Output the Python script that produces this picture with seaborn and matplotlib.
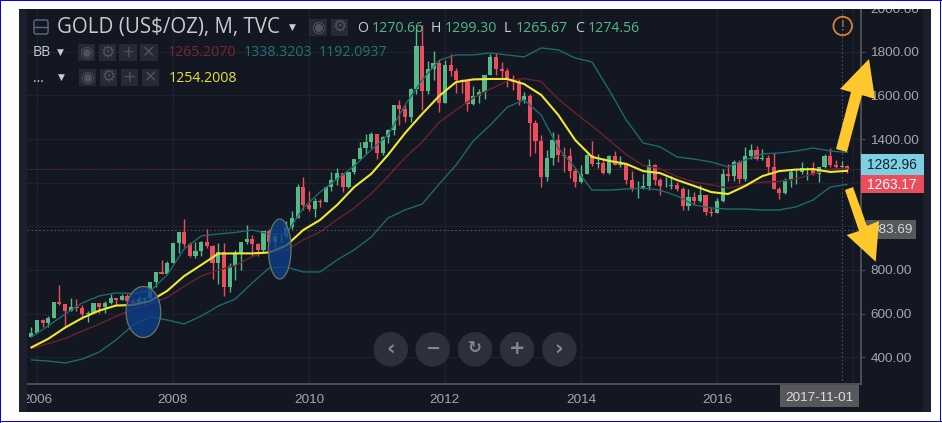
import matplotlib
matplotlib.use("Agg")
import matplotlib.pyplot as plt
import matplotlib.dates as mdates
from matplotlib.patches import Rectangle, Ellipse, Polygon, Circle, FancyBboxPatch
import numpy as np
import pandas as pd
import seaborn as sns

# ---------- candle data, monthly from 2005-12 to 2017-12 ----------
opens = [495,
 513,569,557,582,654,643,614,632,624,598,604,648,
 632,650,672,663,679,659,650,666,673,743,789,783,
 834,924,972,917,864,887,926,912,832,884,724,816,
 880,928,942,917,891,979,926,955,955,996,1040,1179,
 1096,1081,1118,1113,1180,1213,1244,1181,1248,1307,1359,1386,
 1421,1334,1410,1439,1556,1536,1502,1628,1826,1622,1722,1746,
 1564,1737,1711,1669,1664,1560,1597,1615,1692,1776,1719,1712,
 1675,1663,1578,1595,1472,1393,1224,1313,1396,1327,1323,1253,
 1202,1240,1326,1284,1291,1246,1322,1282,1287,1210,1171,1175,
 1184,1283,1213,1183,1184,1190,1172,1095,1134,1115,1142,1065,
 1061,1118,1238,1232,1293,1215,1322,1350,1309,1315,1272,1173,
 1151,1210,1249,1249,1268,1268,1241,1270,1320,1279,1270.66,1274.56]
highs = [541,
 570,574,590,654,730,643,672,665,640,610,650,650,
 660,690,672,692,690,672,683,677,745,790,846,840,
 925,975,1033,930,930,935,987,915,925,925,830,890,
 930,1005,960,925,980,990,960,965,1025,1070,1195,1227,
 1162,1128,1127,1180,1249,1266,1245,1250,1310,1388,1425,1432,
 1425,1412,1448,1557,1577,1556,1632,1912,1921,1756,1804,1764,
 1764,1791,1727,1676,1669,1641,1630,1692,1788,1796,1755,1723,
 1695,1675,1617,1605,1488,1420,1348,1433,1424,1362,1361,1267,
 1280,1332,1392,1331,1315,1325,1345,1324,1287,1255,1208,1239,
 1307,1285,1220,1225,1232,1205,1178,1170,1157,1191,1142,1088,
 1128,1263,1287,1303,1303,1362,1375,1367,1352,1326,1338,1180,
 1220,1264,1262,1295,1270,1296,1270,1331,1357,1306,1299.30,1283]
lows = [491,
 513,538,538,582,640,543,612,612,574,560,604,605,
 605,645,640,662,650,640,648,642,673,722,780,780,
 834,880,905,860,855,862,900,760,736,680,700,755,
 800,920,865,865,880,915,905,930,945,990,1040,1075,
 1070,1044,1088,1113,1160,1190,1155,1175,1240,1306,1330,1360,
 1308,1327,1382,1418,1462,1478,1478,1604,1535,1604,1670,1523,
 1563,1689,1612,1612,1527,1555,1565,1585,1692,1695,1676,1636,
 1626,1555,1564,1321,1338,1180,1208,1281,1295,1251,1221,1182,
 1200,1238,1277,1268,1240,1240,1281,1272,1194,1160,1132,1170,
 1167,1190,1142,1178,1170,1162,1077,1077,1098,1112,1053,1046,
 1061,1111,1208,1208,1199,1207,1310,1302,1304,1241,1171,1124,
 1146,1180,1195,1240,1214,1236,1204,1268,1271,1261,1265.67,1245]
closes = [513,
 569,557,582,654,643,614,632,624,598,604,648,632,
 650,672,663,679,659,650,666,673,743,789,783,834,
 924,972,917,864,887,926,912,832,884,724,816,880,
 928,942,917,891,979,926,955,955,996,1040,1179,1096,
 1081,1118,1113,1180,1213,1244,1181,1248,1307,1359,1386,1421,
 1334,1410,1439,1556,1536,1502,1628,1826,1622,1722,1746,1564,
 1737,1711,1669,1664,1560,1597,1615,1692,1776,1719,1712,1675,
 1663,1578,1595,1472,1393,1224,1313,1396,1327,1323,1253,1202,
 1240,1326,1284,1291,1246,1322,1282,1287,1210,1171,1175,1184,
 1283,1213,1183,1184,1190,1172,1095,1134,1115,1142,1065,1061,
 1118,1238,1232,1293,1215,1322,1350,1309,1315,1272,1173,1151,
 1210,1249,1249,1268,1268,1241,1270,1320,1279,1270.66,1274.56,1263.17]

# ---------- indicator lines, sampled quarterly from 2005-12 ----------
ma_yellow = [445,484,536,580,614,637,640,658,704,772,823,875,876,876,880,912,983,1029,1098,1180,
             1240,1327,1427,1515,1597,1661,1673,1675,1675,1652,1602,1510,1395,1318,1300,1286,
             1253,1244,1212,1185,1157,1148,1185,1230,1253,1260,1262,1249,1254.2]
bb_upper = [493,543,598,649,681,695,692,704,777,896,956,965,972,983,965,965,1084,1157,1217,1276,
            1350,1418,1556,1670,1761,1785,1785,1794,1785,1776,1817,1808,1771,1753,1625,1487,
            1382,1364,1318,1308,1295,1272,1304,1332,1336,1345,1359,1345,1338.3]
bb_lower = [388,383,374,392,424,479,548,585,571,553,589,635,667,740,809,814,791,791,846,892,
            951,1038,1075,1102,1194,1281,1391,1464,1546,1579,1510,1359,1267,1166,1166,1171,
            1175,1166,1139,1098,1084,1079,1079,1075,1075,1089,1121,1180,1192.1]
bb_basis = [440,463,486,520,552,587,620,645,674,725,772,800,820,861,887,890,938,974,1031,1084,
            1150,1228,1315,1386,1477,1533,1588,1629,1665,1677,1663,1583,1519,1460,1395,1329,
            1278,1265,1228,1203,1190,1175,1191,1203,1205,1217,1240,1262,1265.2]

y_ticks = [400, 600, 800, 1000, 1200, 1400, 1600, 1800, 2000]
x_years = [2006, 2008, 2010, 2012, 2014, 2016, 2018]
x_labels = ["2006", "2008", "2010", "2012", "2014", "2016", ""]
title = "GOLD (US$/OZ), M, TVC"
last_price = 1263.17
cross_price = 983.69
cross_date = "2017-11-01"

# ---------- palette ----------
BG = "#131722"
STRIP = "#1c202c"
GRID = "#1e222e"
AX = "#4d4f57"
TXT = "#a3a6ad"
GREEN = "#53b987"
RED = "#eb4d5c"
TEAL = "#1c6a6c"
DKRED = "#6a2329"
YEL = "#f0e833"
ARROW = "#ffc92d"
WID = "#262a36"
GL = "#4e525e"
SANS = "Liberation Sans"
UI = "Open Sans"

sns.set_theme(style="dark")
W, H = 942, 423
fig = plt.figure(figsize=(W / 100, H / 100), dpi=100, facecolor="white")


def ax_px(l, t, r, b):
    return [l / W, 1 - b / H, (r - l) / W, (b - t) / H]


# backdrop panel
under = fig.add_axes([0, 0, 1, 1], zorder=0)
under.set_xlim(0, W); under.set_ylim(H, 0); under.axis("off")
under.add_patch(Rectangle((19, 9), 912, 403, fc=BG, ec="none"))

# main chart
ax = fig.add_axes(ax_px(27, 8, 860.7, 384.3), zorder=5)
ax.set_facecolor("none")
dates = pd.date_range("2005-12-01", periods=len(closes), freq="MS")
qdates = pd.date_range("2005-12-01", periods=len(ma_yellow), freq="3MS")
xn = mdates.date2num(dates)
x0 = mdates.date2num(pd.Timestamp("2006-01-01"))
per_px = 365.25 / 68

ax.set_xlim(x0 - 10 * per_px, x0 + 823.7 * per_px)
v_of = lambda y: 400 + (357.3 - y) / 0.2183
ax.set_ylim(v_of(384.3), v_of(8))

# crosshair and last-price rule
ax.axhline(last_price, color="#7a2a33", lw=0.7, ls=(0, (1.5, 1.5)), zorder=1)
ax.axhline(cross_price, color="#5a5c66", lw=0.7, ls=(0, (1.5, 2.5)), zorder=1)
ax.axvline(mdates.date2num(pd.Timestamp(cross_date)), color="#5a5c66", lw=0.7, ls=(0, (1.5, 2.5)), zorder=1)

o, h, l, c = map(np.array, (opens, highs, lows, closes))
cols = np.where(c >= o, GREEN, RED)
ax.vlines(xn, l, h, colors=cols, lw=1.0, zorder=2)
ax.bar(xn, np.abs(c - o), bottom=np.minimum(o, c), width=23, color=cols, linewidth=0, zorder=2.1)

frame = pd.DataFrame({"date": qdates, "upper": bb_upper, "lower": bb_lower, "basis": bb_basis, "ma": ma_yellow})
for col, colr, lw in (("upper", TEAL, 1.0), ("lower", TEAL, 1.0), ("basis", DKRED, 1.0), ("ma", YEL, 1.5)):
    sns.lineplot(data=frame, x="date", y=col, color=colr, lw=lw, estimator=None, legend=False, ax=ax, zorder=3)

ax.set_xticks([mdates.date2num(pd.Timestamp(f"{yr}-01-01")) for yr in x_years])
ax.set_xticklabels(x_labels)
ax.set_yticks(y_ticks)
ax.set_yticklabels([f"{v:.2f}" if v not in (1000, 1200) else "" for v in y_ticks])
ax.yaxis.tick_right()
ax.set_xlabel(""); ax.set_ylabel("")
ax.grid(True, color=GRID, lw=0.9)
ax.set_axisbelow(True)
for s in ("left", "top"):
    ax.spines[s].set_visible(False)
for s in ("right", "bottom"):
    ax.spines[s].set_color(AX); ax.spines[s].set_linewidth(1.4)
ax.tick_params(axis="both", colors=AX, length=3, width=0.8, labelcolor=TXT, labelsize=9.7, pad=4)
for t in ax.get_xticklabels() + ax.get_yticklabels():
    t.set_family(SANS)

# overlay, in pixel units, for chrome and annotations
ov = fig.add_axes([0, 0, 1, 1], zorder=10)
ov.set_xlim(0, W); ov.set_ylim(H, 0); ov.axis("off"); ov.patch.set_alpha(0)

ov.add_patch(Rectangle((0, 0), W, 9, fc="white", ec="none", zorder=20))
ov.add_patch(Rectangle((19, 9), 8, 403, fc=STRIP, ec="none"))
ov.add_patch(Rectangle((923, 9), 8, 403, fc=STRIP, ec="none"))
ov.add_patch(Rectangle((0, 0), W, 1.2, fc="#0000ff", ec="none", zorder=21))
ov.add_patch(Rectangle((0, 0), 1.2, H, fc="#0000ff", ec="none", zorder=21))
ov.add_patch(Rectangle((0, 421), W, 1.2, fc="#0000ff", ec="none", zorder=21))
ov.add_patch(Rectangle((940.2, 0), 1.2, 422, fc="#0000ff", ec="none", zorder=21))

# highlighted ellipses
for cx, cy, w, hh in ((143.4, 312, 34.7, 51), (279.7, 249, 22.7, 60)):
    ov.add_patch(Ellipse((cx, cy), w, hh, fc="#0e3f8c", ec="none", alpha=0.78, zorder=2))
    ov.add_patch(Ellipse((cx, cy), w, hh, fc="none", ec="#6c7560", lw=0.9, zorder=2.1))

# price and date tags
ov.add_patch(Rectangle((860.5, 154), 63, 21.5, fc="#7dd0e2", ec="none", zorder=3))
ov.text(892, 165, "1282.96", color="#12222c", fontsize=9.9, family=SANS, ha="center", va="center", zorder=4)
ov.add_patch(Rectangle((860.5, 175.5), 63, 18, fc=RED, ec="none", zorder=3))
ov.text(892, 185, "1263.17", color="white", fontsize=9.9, family=SANS, ha="center", va="center", zorder=4)
ov.add_patch(Rectangle((866, 220), 50, 19.5, fc="#56585c", ec="none", zorder=3))
ov.text(892, 230, f"{cross_price:.2f}", color="#d8d9dc", fontsize=9.7, family=SANS, ha="center", va="center", zorder=4)
ov.add_patch(Rectangle((780, 385.5), 79, 22, fc="#56585c", ec="none", zorder=3))
ov.text(819.5, 398, cross_date, color="#dcdde0", fontsize=9.7, family=SANS, ha="center", va="center", zorder=4)

# yellow arrows
ov.add_patch(Polygon([(836, 149), (847, 152), (862, 95), (875, 99), (869, 59), (840, 89), (851, 92)],
                     closed=True, fc=ARROW, ec="none", zorder=6))
ov.add_patch(Polygon([(845, 190), (853, 187), (867, 226), (879, 221), (875.7, 261.7), (846.7, 235), (859, 231)],
                     closed=True, fc=ARROW, ec="none", zorder=6))

# header texts
ov.text(57, 28, title, color="#c9cbd0", fontsize=14.8, family=UI, va="center", ha="left")
ov.text(292, 27, "▼", color="#c9cbd0", fontsize=6.5, family="DejaVu Sans", ha="center", va="center")
ov.add_patch(FancyBboxPatch((34, 20), 14, 14, boxstyle="round,pad=0,rounding_size=2", fc="none", ec="#5d6b80", lw=1))
ov.plot([34, 48], [27, 27], color="#5d6b80", lw=1)


def hdr(x, y, s, colr, fs=10.2, ha="left"):
    ov.text(x, y, s, color=colr, fontsize=fs, family=UI, va="center", ha=ha)


for x, s, colr in ((357, "O", "#c9cbd0"), (372, "1270.66", GREEN), (431, "H", "#c9cbd0"), (445, "1299.30", GREEN),
                   (504, "L", "#c9cbd0"), (516, "1265.67", GREEN), (575, "C", "#c9cbd0"), (588, "1274.56", GREEN)):
    hdr(x, 28.5, s, colr)
hdr(33, 52, "BB", "#c9cbd0")
hdr(168, 53, "1265.2070", "#7a262c")
hdr(244, 53, "1338.3203", "#1d7676")
hdr(319, 53, "1192.0937", "#1d7676")
hdr(33, 78, "...", "#c9cbd0")
hdr(169, 78.5, "1254.2008", "#e8e23a")
ov.text(60, 52, "▼", color="#c9cbd0", fontsize=6.5, family="DejaVu Sans", ha="center", va="center")
ov.text(61, 77, "▼", color="#c9cbd0", fontsize=6.5, family="DejaVu Sans", ha="center", va="center")


def widget(x, y, glyph, fs=11.5):
    ov.add_patch(Rectangle((x, y), 17.5, 17, fc=WID, ec="none"))
    ov.text(x + 8.7, y + 8.2, glyph, color=GL, fontsize=fs, family="DejaVu Sans", ha="center", va="center")


widget(309, 19, "◉"); widget(330.5, 19, "⚙")
for (x, g) in ((77.5, "◉"), (98.5, "⚙"), (119.3, "+"), (140.3, "✕")):
    widget(x, 44.3, g)
for (x, g) in ((78.8, "◉"), (99.8, "⚙"), (120.7, "+"), (141.7, "✕")):
    widget(x, 69, g)

# alert icon
ov.add_patch(Circle((842.7, 26), 9.3, fc="none", ec="#d4813c", lw=1.3))
ov.text(842.7, 26, "!", color="#d4813c", fontsize=10, family=SANS, ha="center", va="center")

# navigation buttons
for cx, g, fs in ((390.7, "‹", 15), (432.7, "−", 13), (475, "↻", 12), (517, "+", 14), (559.3, "›", 15)):
    ov.add_patch(Circle((cx, 349.3), 17.3, fc="#2d303a", ec="none"))
    ov.text(cx, 348.5, g, color="#85878e", fontsize=fs, fontweight="bold", family="DejaVu Sans", ha="center", va="center")

fig.savefig("out.png", dpi=100)
